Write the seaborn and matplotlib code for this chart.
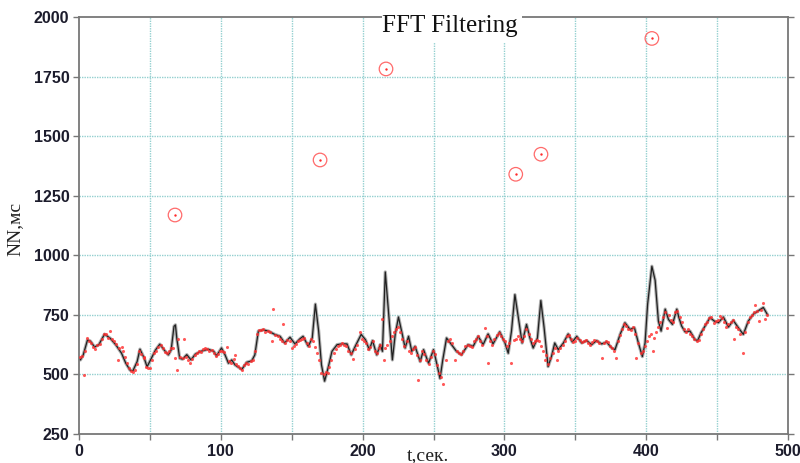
import numpy as np
import pandas as pd
import matplotlib
matplotlib.use('Agg')
import matplotlib.pyplot as plt
import seaborn as sns
from matplotlib.patches import Rectangle
from matplotlib.ticker import FuncFormatter

# отфильтрованная кривая (FFT)
line_t = [0, 1, 3, 6, 8, 11, 14, 18, 22, 26, 30, 33, 36, 38, 41, 43, 46, 48, 51, 54,
          57, 60, 63, 65, 67, 68, 69, 71, 73, 76, 79, 82, 86, 91, 95, 97, 100.5, 103, 105.4, 107.7,
          110, 114.8, 118.3, 121.8, 124, 126.5, 130, 133.6, 138, 141.8, 145, 148.8, 152.3, 155.9, 158, 161.7,
          164.5, 166.7, 169, 171, 173.2, 175.6, 178.4, 182, 185.4, 189, 192, 194.8, 199, 202, 204.7, 207,
          210, 212.4, 214, 216, 218.8, 221, 223, 225.3, 228, 230, 232.4, 234.7, 237, 240.6, 243, 246.5,
          250, 252.5, 254.6, 256.5, 259.2, 262.7, 266.2, 269.7, 274.4, 278, 281.5, 285, 288.5, 292, 296.7,
          300.4, 302.7, 305, 307.4, 310.2, 312.5, 315.6, 318, 320.3, 323.3, 325.7, 328, 330.8, 333.2, 335.5,
          338, 341.6, 345, 347.9, 351, 354.5, 358, 361.5, 365, 368.6, 372, 375.7, 378, 381.6, 385, 388.6,
          391.7, 394.5, 397.3, 399.2, 401, 404, 406.3, 408.6, 410.5, 413.4, 415.7, 418.5, 421.6, 423,
          425, 427.4, 430.9, 434.4, 436.3, 438.7, 441.5, 445, 448, 450.9, 454.4, 458, 461.4, 465, 468.5,
          472, 475.6, 479, 482.6, 485.6]
line_v = [565, 561, 582, 645, 640, 615, 625, 669, 652, 624, 589, 547, 518, 515, 554, 606, 568, 532, 568, 603,
          627, 603, 582, 603, 702, 708, 650, 568, 564, 583, 561, 585, 597, 606, 597, 578, 611, 582, 547, 561,
          540, 521, 551, 557, 582, 682, 687, 682, 668, 660, 632, 656, 628, 650, 660, 618,
          653, 795, 682, 540, 472, 526, 597, 625, 628, 628, 582, 618, 668, 646, 604, 642,
          582, 625, 597, 930, 724, 561, 668, 741, 668, 611, 660, 597, 618, 554, 604, 547,
          604, 540, 483, 560, 653, 625, 597, 582, 625, 618, 660, 625, 670, 628, 679,
          632, 589, 682, 835, 724, 632, 710, 653, 611, 653, 810, 696, 533, 575, 632,
          604, 632, 670, 636, 660, 632, 642, 625, 642, 628, 636, 611, 604, 668, 717, 689,
          696, 632, 575, 632, 795, 954, 895, 724, 682, 774, 731, 710, 774, 740,
          703, 679, 682, 646, 642, 675, 703, 739, 724, 717, 741, 699, 727, 696, 668,
          724, 753, 767, 781, 750]

# исходные NN-интервалы
dot_t = [0.5, 2, 3.6, 4.5, 5.7, 7, 8.5, 10, 11.5, 13, 14.5, 16, 17.5, 19, 20.5, 21.8, 23, 24.5, 26, 27.7,
         28.5, 30, 31, 32.5, 33.5, 35, 36.5, 38, 39.5, 41, 42.5, 44, 45.5, 46, 47.5, 48.5, 50, 51.5, 53, 54.5,
         56, 57.5, 59, 60.5, 62, 63.5, 65, 66.5, 68, 69, 70, 71.5, 73, 74, 75.5, 77, 78.5, 80, 81.5, 83,
         84.5, 86, 87.5, 89, 90.5, 92, 93.5, 95, 96.5, 98, 99.5, 101, 102.5, 104.7, 106, 107.5, 109, 110, 111, 112,
         113.5, 115, 116.5, 118, 119.5, 121, 122.5, 124, 125.5, 127, 128.5, 130, 131.5, 133, 134.5, 136, 137, 138.5,
         140, 141.5, 143, 144, 145.5, 147, 148.5, 150, 151.5, 153, 154.5, 156, 157.5, 159, 160.5, 162, 163.5, 165,
         166.5, 168, 169.5, 171, 172.5, 174, 175.5, 176.5, 178, 179.5, 181, 182.5, 184, 185.5, 187, 188.5, 190,
         191.5, 193, 194.5, 196, 198, 199.5, 201, 202.5, 204, 205.5, 207, 208.5, 210, 211.5, 212.5, 213.6, 214.8,
         216, 217.5, 219, 220.5, 222, 223.5, 225, 226.5, 228, 229.5, 231, 232.5, 234, 235.5, 237, 238.5, 239.4,
         240.5, 242, 243.5, 245, 246.5, 248, 249.5, 251, 252.5, 254, 255.5, 257, 258.5, 260, 261.5, 263, 265,
         266.5, 268, 269.5, 271, 272.5, 274, 275.5, 277, 278.5, 280, 281.5, 283, 284.5, 286.6, 288, 288.6, 290,
         291.5, 293, 294.5, 296, 297.5, 299, 300.5, 302, 303.5, 305, 306.5, 308, 309.5, 311, 312.5, 314, 315.5,
         317, 318.5, 320, 321.5, 323, 324.5, 326, 327.5, 328.3, 329.5, 331, 332.5, 334, 335.5, 336.8, 338, 339.5,
         341, 342.5, 344, 345.5, 347, 348.5, 350, 351.5, 353, 354.5, 356, 357.5, 359, 360.5, 362, 363.5, 365,
         366.5, 368.6, 370, 371.5, 373, 374.5, 376, 377.5, 378.6, 380, 381.5, 383, 384.5, 386, 387.5, 389, 390.5,
         392, 393, 394.5, 396, 397.5, 399, 400.5, 402, 403.5, 404.6, 405.5, 407, 408.5, 410, 411.5, 413, 414.5,
         416, 417.5, 419, 420.5, 422, 423.5, 425, 426.5, 428, 429.5, 431, 432.5, 434, 435.5, 437, 438.5, 440,
         441.5, 443, 444.5, 446, 447.5, 449, 450.5, 452, 453.5, 455, 456.5, 458, 459.5, 461, 462, 463.5, 465,
         466.5, 468.5, 470, 471.5, 473, 474.5, 476, 476.7, 478, 479.6, 481, 482.6, 484, 485]
dot_v = [575, 578, 497, 600, 655, 640, 632, 615, 608, 622, 628, 650, 668, 670, 655, 681, 650, 640, 628, 561,
         612, 617, 598, 575, 548, 525, 515, 512, 518, 545, 600, 585, 575, 568, 530, 527, 528, 560, 590, 600,
         615, 622, 610, 595, 588, 600, 612, 610, 570, 518, 648, 575, 568, 648, 575, 560, 550, 565, 582, 590,
         598, 595, 605, 612, 608, 600, 604, 588, 578, 586, 598, 600, 595, 617, 556, 548, 565, 582, 545, 535,
         525, 520, 540, 548, 545, 555, 560, 600, 670, 688, 685, 690, 680, 683, 678, 639, 774, 665,
         660, 648, 640, 710, 632, 645, 640, 611, 620, 628, 640, 645, 650, 655, 630, 620, 650, 640,
         615, 590, 560, 505, 500, 511, 505, 530, 560, 590, 605, 620, 625, 630, 625, 620, 600,
         590, 565, 608, 625, 679, 650, 640, 630, 605, 615, 640, 600, 590, 610, 625, 731, 561,
         610, 625, 640, 660, 680, 690, 700, 680, 650, 620, 640, 600, 590, 605, 615, 580, 476,
         560, 600, 585, 560, 545, 575, 600, 585, 540, 505, 490, 460, 560, 640, 650, 630, 561,
         600, 590, 585, 600, 618, 625, 620, 615, 640, 650, 660, 640, 625, 693, 660, 547, 640,
         625, 650, 665, 675, 660, 650, 640, 620, 630, 547, 645, 650, 660, 650, 640, 660, 690,
         670, 650, 630, 640, 645, 640, 620, 600, 561, 580, 545, 570, 590, 610, 561, 600, 610,
         625, 640, 660, 665, 650, 635, 640, 655, 645, 635, 640, 645, 630, 625, 635, 645, 640,
         630, 568, 630, 640, 635, 620, 612, 600, 568, 640, 665, 690, 710, 705, 690, 685, 700,
         670, 568, 630, 590, 600, 620, 640, 660, 670, 597, 653, 680, 700, 720, 740, 760, 693,
         750, 730, 720, 760, 765, 740, 720, 690, 680, 690, 670, 660, 650, 640, 645, 670, 690,
         710, 720, 735, 740, 715, 725, 730, 745, 735, 720, 700, 710, 720, 730, 650, 700, 690,
         670, 590, 680, 720, 740, 750, 760, 790, 765, 724, 770, 800, 731, 750]

# выбросы (артефакты)
out_t = [67.7, 170, 216.5, 308, 325.8, 404]
out_v = [1169, 1400, 1782, 1340, 1424, 1910]

x_ticks = list(range(0, 501, 50))
y_ticks = list(range(250, 2001, 250))

df_line = pd.DataFrame({'t': line_t, 'nn': line_v})
df_dots = pd.DataFrame({'t': dot_t, 'nn': dot_v})
df_out = pd.DataFrame({'t': out_t, 'nn': out_v})

sns.set_style('white')
plt.rcParams['font.family'] = ['Liberation Sans', 'DejaVu Sans']

fig = plt.figure(figsize=(8, 4.63), dpi=100)
ax = fig.add_axes([0.09875, 0.0626, 0.88625, 0.9007])

grid_c = '#94d0d0'
for x in x_ticks[1:-1]:
    ax.axvline(x, color=grid_c, lw=1.0, ls=(0, (1, 0.8)), zorder=0)
for y in y_ticks[1:-1]:
    ax.axhline(y, color=grid_c, lw=1.0, ls=(0, (1, 0.8)), zorder=0)

# серый ореол под линией, как на оригинале
sns.lineplot(data=df_line, x='t', y='nn', ax=ax, color='#b0b0b0', lw=2.4,
             estimator=None, zorder=2)
sns.lineplot(data=df_line, x='t', y='nn', ax=ax, color='#202020', lw=0.9,
             estimator=None, zorder=2)
sns.scatterplot(data=df_dots, x='t', y='nn', ax=ax, color='#ff3030', s=5,
                linewidth=0, alpha=0.8, zorder=3)
sns.scatterplot(data=df_out, x='t', y='nn', ax=ax, facecolor='none', edgecolor='#ff6a6a',
                s=95, linewidth=0.9, zorder=3)
sns.scatterplot(data=df_out, x='t', y='nn', ax=ax, color='#ff2a2a', s=3,
                linewidth=0, zorder=4)

ax.set_xlim(0, 500)
ax.set_ylim(250, 2000)
ax.set_xticks(x_ticks)
ax.set_yticks(y_ticks)
ax.xaxis.set_major_formatter(FuncFormatter(lambda v, p: f'{int(v)}' if int(v) % 100 == 0 else ''))
ax.tick_params(axis='both', direction='out', length=4, width=1, color='#777777',
               labelsize=11.5, labelcolor='#1c1c2c', pad=3)
ax.tick_params(axis='y', right=True, left=True)
ax.tick_params(axis='x', bottom=True)
for lab in ax.get_xticklabels() + ax.get_yticklabels():
    lab.set_fontweight('bold')
ax.set_xlabel('')
ax.set_ylabel('')
for side in ['left', 'right', 'top', 'bottom']:
    ax.spines[side].set_visible(True)
    ax.spines[side].set_color('#777777')
    ax.spines[side].set_linewidth(1.3)

# заголовок поверх верхней рамки
fig.add_artist(Rectangle((382 / 800, 1 - 43 / 463), 140 / 800, 36 / 463,
                         transform=fig.transFigure, facecolor='white', edgecolor='none', zorder=2))
fig.text(0.562, 1 - 32 / 463, 'FFT Filtering', ha='center', va='baseline',
         family='Liberation Serif', fontsize=18, color='#111111', zorder=3)
fig.text(0.535, 0.006, 't,сек.', ha='center', va='baseline',
         family='Liberation Serif', fontsize=14, color='#222222')
fig.text(0.019, 1 - 229 / 463, 'NN,мс', ha='center', va='center', rotation=90,
         family='Liberation Serif', fontsize=14, color='#222222')

fig.savefig('out.png', dpi=100, facecolor='white')
